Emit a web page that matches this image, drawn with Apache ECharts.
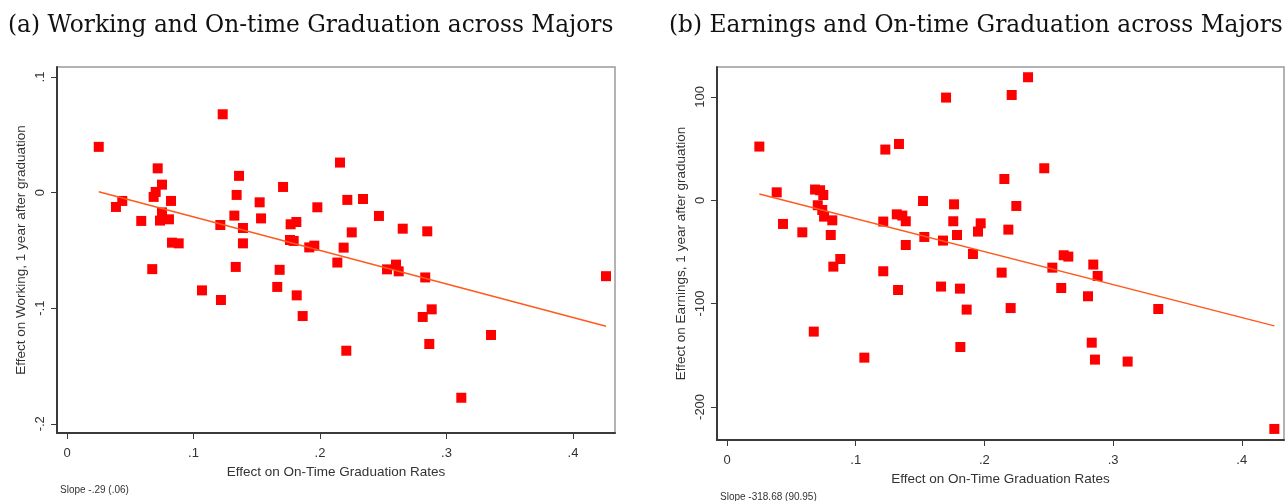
<!DOCTYPE html>
<html>
<head>
<meta charset="utf-8">
<script src="https://cdn.jsdelivr.net/npm/echarts@6/dist/echarts.min.js"></script>
<style>
  html, body { margin: 0; padding: 0; background: #fff; }
  #chart { width: 1286px; height: 501px; }
</style>
</head>
<body>
<div id="chart"></div>
<script>
// Effect on on-time graduation rate (x) and effect on working (y), one point per major
const workGrad = [0.0251, 0.1231, 0.0717, 0.0751, 0.0701, 0.0685, 0.1360, 0.1341, 0.1708, 0.0387,
  0.0437, 0.0822, 0.0587, 0.0751, 0.0735, 0.0806, 0.1212, 0.1323, 0.1391, 0.1523,
  0.1534, 0.1768, 0.1813, 0.1979, 0.0830, 0.0883, 0.1391, 0.1763, 0.1792, 0.1915,
  0.1955, 0.0674, 0.1334, 0.1681, 0.2158, 0.2216, 0.2340, 0.2466, 0.2251, 0.2654,
  0.2848, 0.2187, 0.2137, 0.2530, 0.2601, 0.2622, 0.2832, 0.4261, 0.1067, 0.1217,
  0.1662, 0.1816, 0.1863, 0.2883, 0.2812, 0.2208, 0.3352, 0.2864, 0.3117];
const workEffect = [0.0396, 0.0678, 0.0210, 0.0069, 0.0006, -0.0037, 0.0145, -0.0020, 0.0049, -0.0124,
  -0.0072, -0.0072, -0.0245, -0.0171, -0.0242, -0.0231, -0.0280, -0.0199, -0.0306, -0.0084,
  -0.0223, -0.0274, -0.0254, -0.0127, -0.0433, -0.0439, -0.0439, -0.0410, -0.0418, -0.0474,
  -0.0459, -0.0662, -0.0643, -0.0668, 0.0260, -0.0063, -0.0055, -0.0202, -0.0344, -0.0312,
  -0.0335, -0.0476, -0.0605, -0.0664, -0.0623, -0.0681, -0.0734, -0.0723, -0.0846, -0.0929,
  -0.0816, -0.0889, -0.1068, -0.1010, -0.1076, -0.1368, -0.1232, -0.1310, -0.1775];

// Effect on on-time graduation rate (x) and effect on earnings (y)
const earnGrad = [0.0251, 0.1702, 0.1230, 0.1336, 0.0386, 0.0684, 0.0723, 0.0748, 0.0705, 0.0740,
  0.0754, 0.0818, 0.0435, 0.0585, 0.0806, 0.0880, 0.0826, 0.1214, 0.1214, 0.1319,
  0.1362, 0.1389, 0.1389, 0.1523, 0.1533, 0.1678, 0.1764, 0.1758, 0.1787, 0.1911,
  0.1971, 0.1950, 0.2339, 0.2212, 0.2465, 0.2155, 0.2248, 0.2186, 0.2134, 0.2528,
  0.2616, 0.2652, 0.2846, 0.2880, 0.1329, 0.1663, 0.1810, 0.1862, 0.0674, 0.1067,
  0.1813, 0.2204, 0.2597, 0.2805, 0.3351, 0.2834, 0.2859, 0.3113, 0.4253];
const earnEffect = [52.0, 99.4, 49.1, 54.5, 7.7, 10.4, 9.7, 5.1, -4.8, -9.4,
  -15.8, -19.4, -22.9, -31.0, -33.6, -56.8, -64.2, -20.6, -68.7, -13.6,
  -14.8, -20.3, -43.3, -0.7, -35.5, -39.0, -3.9, -20.3, -33.6, -52.0,
  -22.3, -30.3, 119.1, 101.9, 31.0, 20.6, -5.5, -28.4, -70.0, -65.2,
  -53.2, -54.5, -62.2, -73.3, -86.8, -83.5, -85.5, -105.8, -127.1, -152.3,
  -142.0, -104.3, -84.9, -92.9, -105.2, -137.8, -154.2, -156.1, -221.3];

// Fitted lines: intercept and slope (slope as reported under each panel)
const workFit = { intercept: 0.008, slope: -0.29, se: 0.06 };
const earnFit = { intercept: 14.0, slope: -318.68, se: 90.95 };

// Tick values
const gradTicks = [0, 0.1, 0.2, 0.3, 0.4];
const workTicks = [-0.2, -0.1, 0, 0.1];
const earnTicks = [-200, -100, 0, 100];

const panelTitles = [
  '(a) Working and On-time Graduation across Majors',
  '(b) Earnings and On-time Graduation across Majors'
];
const yTitles = ['Effect on Working, 1 year after graduation', 'Effect on Earnings, 1 year after graduation'];
const xTitle = 'Effect on On-Time Graduation Rates';

function pairs(xs, ys) { return xs.map((x, i) => [x, ys[i]]); }
function fitLine(xs, fit) {
  const lo = Math.min(...xs), hi = Math.max(...xs);
  return [[lo, fit.intercept + fit.slope * lo], [hi, fit.intercept + fit.slope * hi]];
}
// Stata-style decimals: ".1", "-.1", "0"
function stataNum(v) {
  if (v === 0) return '0';
  const s = String(Math.abs(Math.round(v * 1e6) / 1e6)).replace(/^0\./, '.');
  return (v < 0 ? '-' : '') + s;
}

const SANS = '"Liberation Sans", Arial, sans-serif';
const SERIF = '"DejaVu Serif", serif';
const AXIS_DARK = '#3a3a3a';

function xAxisFor(gridIndex, min, max) {
  return {
    type: 'value', gridIndex, min, max,
    name: xTitle, nameLocation: 'middle', nameGap: 29,
    nameTextStyle: { fontFamily: SANS, fontSize: 13.5, color: '#333' },
    splitLine: { show: false },
    axisLine: { show: true, onZero: false, lineStyle: { color: AXIS_DARK, width: 2 } },
    axisTick: { show: true, length: 6, customValues: gradTicks, lineStyle: { color: AXIS_DARK, width: 1 } },
    axisLabel: { customValues: gradTicks, margin: 14, formatter: stataNum,
      fontFamily: SANS, fontSize: 13, color: '#333' }
  };
}
function yAxisFor(gridIndex, min, max, ticks, title, fmt) {
  return {
    type: 'value', gridIndex, min, max,
    name: title, nameLocation: 'middle', nameGap: 29,
    nameTextStyle: { fontFamily: SANS, fontSize: 13.5, color: '#333' },
    splitLine: { show: false },
    axisLine: { show: true, onZero: false, lineStyle: { color: AXIS_DARK, width: 2 } },
    axisTick: { show: true, length: 6, customValues: ticks, lineStyle: { color: AXIS_DARK, width: 1 } },
    axisLabel: { customValues: ticks, rotate: 90, margin: 10, formatter: fmt,
      fontFamily: SANS, fontSize: 13, color: '#333' }
  };
}

const titleStyle = { fontFamily: SERIF, fontSize: 23.3, fontWeight: 'normal', color: '#111' };
const noteStyle = { fontFamily: SANS, fontSize: 10, fontWeight: 'normal', color: '#333' };

const chart = echarts.init(document.getElementById('chart'), null, { renderer: 'canvas' });
chart.setOption({
  animation: false,
  backgroundColor: '#ffffff',
  title: [
    { text: panelTitles[0], left: 8, top: 14, padding: 0, textStyle: titleStyle },
    { text: panelTitles[1], left: 669, top: 14, padding: 0, textStyle: titleStyle },
    { text: 'Slope ' + stataNum(workFit.slope) + ' (' + stataNum(workFit.se) + ')', left: 60, top: 485,
      padding: 0, textStyle: noteStyle },
    { text: 'Slope ' + earnFit.slope.toFixed(2) + ' (' + earnFit.se.toFixed(2) + ')', left: 720, top: 492,
      padding: 0, textStyle: noteStyle }
  ],
  grid: [
    { left: 57, top: 67, width: 558, height: 366, show: true, borderColor: '#9a9a9a', borderWidth: 1.5, backgroundColor: '#fff' },
    { left: 717, top: 67, width: 567, height: 373, show: true, borderColor: '#9a9a9a', borderWidth: 1.5, backgroundColor: '#fff' }
  ],
  xAxis: [
    xAxisFor(0, -0.0079, 0.4332),
    xAxisFor(1, -0.0078, 0.4328)
  ],
  yAxis: [
    yAxisFor(0, -0.208, 0.1087, workTicks, yTitles[0], stataNum),
    yAxisFor(1, -232, 129, earnTicks, yTitles[1], v => String(v))
  ],
  series: [
    { type: 'scatter', xAxisIndex: 0, yAxisIndex: 0, data: pairs(workGrad, workEffect),
      symbol: 'rect', symbolSize: 10, itemStyle: { color: '#ff0000', opacity: 1 }, z: 2 },
    { type: 'line', xAxisIndex: 0, yAxisIndex: 0, data: fitLine(workGrad, workFit),
      showSymbol: false, lineStyle: { color: '#ff5a1e', width: 1.5 }, z: 3, silent: true },
    { type: 'scatter', xAxisIndex: 1, yAxisIndex: 1, data: pairs(earnGrad, earnEffect),
      symbol: 'rect', symbolSize: 10, itemStyle: { color: '#ff0000', opacity: 1 }, z: 2 },
    { type: 'line', xAxisIndex: 1, yAxisIndex: 1, data: fitLine(earnGrad, earnFit),
      showSymbol: false, lineStyle: { color: '#ff5a1e', width: 1.5 }, z: 3, silent: true }
  ]
});
</script>
</body>
</html>
